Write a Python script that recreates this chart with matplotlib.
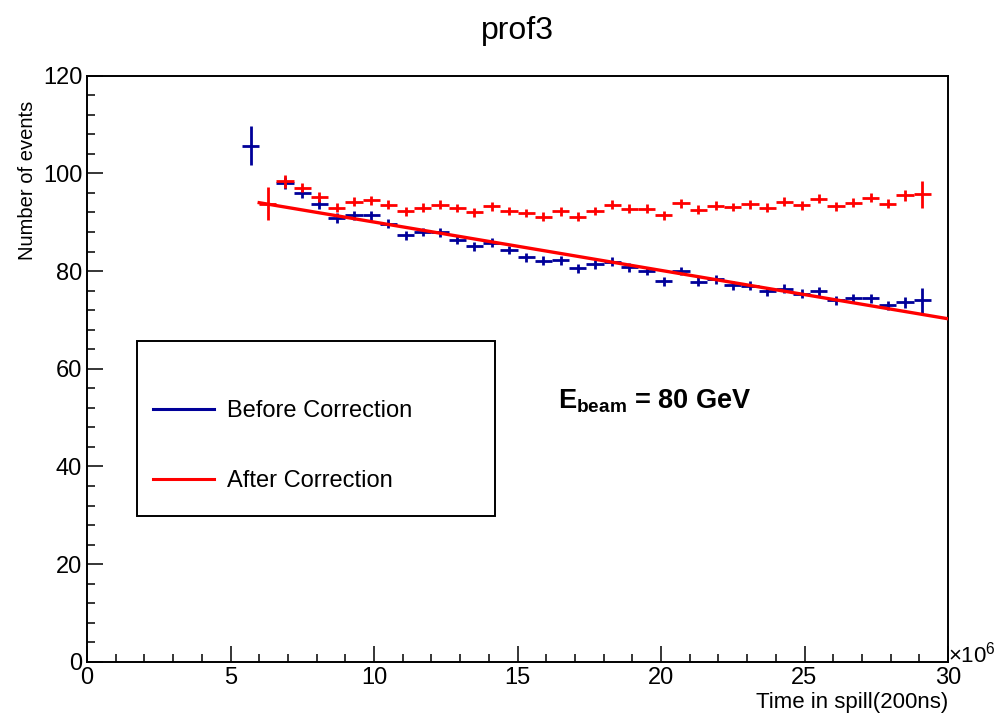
import matplotlib
matplotlib.use("Agg")
import matplotlib.pyplot as plt
from matplotlib.lines import Line2D
from matplotlib.patches import Rectangle
import numpy as np

plt.rcParams['font.family'] = ['Liberation Sans', 'DejaVu Sans']
plt.rcParams['mathtext.fontset'] = 'custom'
plt.rcParams['mathtext.rm'] = 'Liberation Sans'
plt.rcParams['mathtext.bf'] = 'Liberation Sans:bold'

# ---- data (x in units of 1e6 x 200ns) ----
bin_half_width = 0.3

before_x = [5.7, 6.9, 7.5, 8.1, 8.7, 9.3, 9.9, 10.5, 11.1, 11.7, 12.3, 12.9, 13.5,
            14.1, 14.7, 15.3, 15.9, 16.5, 17.1, 17.7, 18.3, 18.9, 19.5, 20.1, 20.7,
            21.3, 21.9, 22.5, 23.1, 23.7, 24.3, 24.9, 25.5, 26.1, 26.7, 27.3, 27.9,
            28.5, 29.1]
before_y = [105.7, 98.0, 96.0, 93.8, 90.9, 91.4, 91.4, 89.7, 87.3, 88.0, 87.9, 86.4, 85.1,
            85.8, 84.3, 82.8, 82.1, 82.2, 80.6, 81.4, 81.9, 80.8, 80.0, 77.9, 80.0,
            77.8, 78.3, 77.1, 77.0, 75.9, 76.4, 75.4, 75.9, 74.0, 74.4, 74.4, 73.0,
            73.6, 74.0]
before_err = [4.0, 1.2, 1.0, 1.0, 1.0, 0.9, 0.9, 0.9, 0.9, 0.9, 0.9, 0.9, 0.9,
              0.9, 0.9, 0.9, 0.9, 0.9, 0.9, 0.9, 0.9, 0.9, 0.9, 0.9, 0.9,
              0.9, 0.9, 0.9, 0.9, 0.9, 0.9, 0.9, 0.9, 0.9, 0.9, 0.9, 0.9,
              1.1, 2.6]

after_x = [6.3, 6.9, 7.5, 8.1, 8.7, 9.3, 9.9, 10.5, 11.1, 11.7, 12.3, 12.9, 13.5,
           14.1, 14.7, 15.3, 15.9, 16.5, 17.1, 17.7, 18.3, 18.9, 19.5, 20.1, 20.7,
           21.3, 21.9, 22.5, 23.1, 23.7, 24.3, 24.9, 25.5, 26.1, 26.7, 27.3, 27.9,
           28.5, 29.1]
after_y = [93.8, 98.4, 97.1, 95.2, 93.0, 94.2, 94.5, 93.6, 92.2, 93.0, 93.6, 92.9, 92.0,
           93.3, 92.3, 91.9, 91.1, 92.2, 91.1, 92.3, 93.6, 92.8, 92.8, 91.4, 93.9,
           92.6, 93.4, 93.1, 93.7, 93.0, 94.2, 93.5, 94.8, 93.3, 94.0, 95.0, 93.8,
           95.5, 95.7]
after_err = [3.4, 1.3, 1.0, 1.0, 1.0, 0.9, 0.9, 0.9, 0.9, 0.9, 0.9, 0.9, 0.9,
             0.9, 0.9, 0.9, 0.9, 0.9, 0.9, 0.9, 0.9, 0.9, 0.9, 0.9, 0.9,
             0.9, 0.9, 0.9, 0.9, 0.9, 0.9, 0.9, 0.9, 0.9, 0.9, 0.9, 0.9,
             1.1, 2.8]

# linear fit drawn in red: f(x) = p0 + p1*x, range [fit_min, fit_max]
fit_p0 = 99.94
fit_p1 = -0.99
fit_min, fit_max = 6.0, 30.0

legend_labels = ["Before Correction", "After Correction"]

BLUE = "#000099"
RED = "#ff0000"

fig = plt.figure(figsize=(10.0, 7.14), dpi=100)
ax = fig.add_axes([0.087, 0.073, 0.861, 0.821])

ax.errorbar(before_x, before_y, xerr=bin_half_width, yerr=before_err, fmt='none',
            ecolor=BLUE, elinewidth=2.0, capsize=0, zorder=3)
ax.errorbar(after_x, after_y, xerr=bin_half_width, yerr=after_err, fmt='none',
            ecolor=RED, elinewidth=2.0, capsize=0, zorder=4)

xf = np.linspace(fit_min, fit_max, 100)
ax.plot(xf, fit_p0 + fit_p1 * xf, color=RED, lw=2.4, zorder=5)

ax.set_xlim(0, 30)
ax.set_ylim(0, 120)
ax.set_xticks([0, 5, 10, 15, 20, 25, 30])
ax.set_xticks(np.arange(0, 31, 1), minor=True)
ax.set_yticks([0, 20, 40, 60, 80, 100, 120])
ax.set_yticks(np.arange(0, 121, 4), minor=True)
ax.tick_params(which='both', direction='in', top=False, right=False, labelsize=17,
               width=1.1, color='black')
ax.tick_params(which='major', length=11.5)
ax.tick_params(which='minor', length=5.8)
ax.tick_params(axis='y', pad=3.5)
ax.tick_params(axis='x', pad=4)
for s in ax.spines.values():
    s.set_linewidth(1.4)

ax.set_ylabel("Number of events", fontsize=14.5, loc='top')
ax.yaxis.set_label_coords(-0.058, 0.957)
ax.set_xlabel("Time in spill(200ns)", fontsize=16, loc='right')
ax.xaxis.set_label_coords(1.0, -0.052)

fig.text(0.517, 1 - 31 / 714, "prof3", fontsize=23, ha='center', va='center')
fig.text(0.948, 1 - 655 / 714, r"$\times$10$^{6}$", fontsize=16, ha='left', va='center')

ax.text(16.4, 53.3, r"$\mathbf{E_{beam}}$ = 80 GeV", fontsize=19.5, fontweight='bold',
        ha='left', va='center')

# legend box
fig.patches.append(Rectangle((0.137, 1 - 516 / 714), (495 - 137) / 1000, (516 - 341) / 714,
                             transform=fig.transFigure, fill=False, edgecolor='black',
                             linewidth=1.4, zorder=10))
handles = [Line2D([], [], color=BLUE, lw=2.2), Line2D([], [], color=RED, lw=2.2)]
leg = fig.legend(handles, legend_labels, loc='upper left',
                 bbox_to_anchor=(0.141, 1 - 388 / 714), frameon=False, fontsize=17,
                 handlelength=2.6, handletextpad=0.55, labelspacing=2.05, borderpad=0)

fig.savefig("out.png", dpi=100)
